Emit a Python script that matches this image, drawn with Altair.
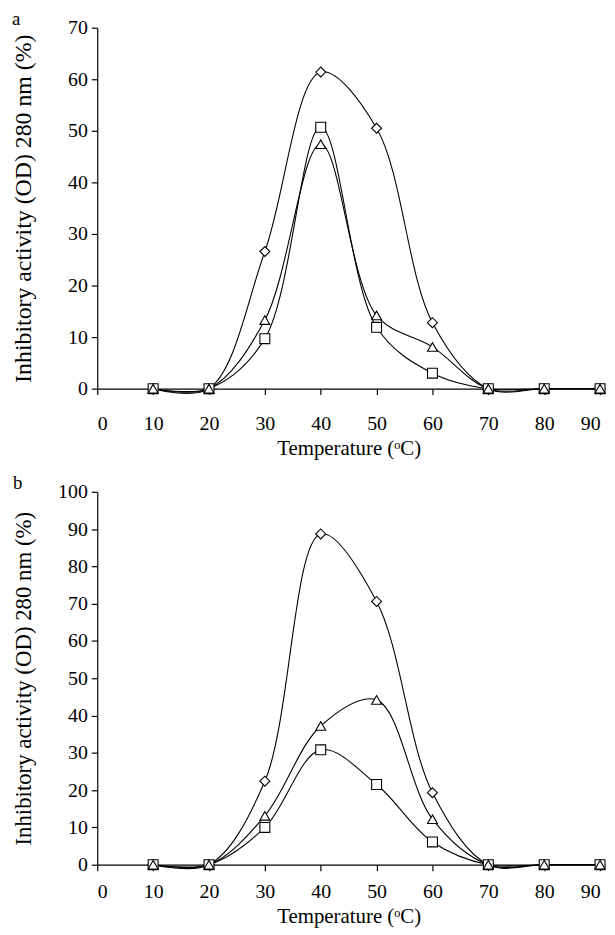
import altair as alt
import pandas as pd

temps = [10, 20, 30, 40, 50, 60, 70, 80, 90]

a_diamond = [0, 0, 26.6, 61.4, 50.5, 12.8, 0, 0, 0]
a_square = [0, 0, 9.7, 50.7, 11.9, 3.0, 0, 0, 0]
a_triangle = [0, 0, 13.3, 47.4, 14.2, 8.1, 0, 0, 0]

b_diamond = [0, 0, 22.4, 88.7, 70.6, 19.3, 0, 0, 0]
b_triangle = [0, 0, 13.1, 37.2, 44.2, 12.2, 0, 0, 0]
b_square = [0, 0, 10.0, 30.8, 21.5, 6.1, 0, 0, 0]

series_names = ["diamond", "square", "triangle"]
shape_range = ["diamond", "square", "triangle-up"]

x_ticks = [0, 10, 20, 30, 40, 50, 60, 70, 80, 90]
a_y_ticks = [0, 10, 20, 30, 40, 50, 60, 70]
b_y_ticks = [0, 10, 20, 30, 40, 50, 60, 70, 80, 90, 100]


def make_df(d, s, t):
    rows = []
    for name, vals in zip(series_names, [d, s, t]):
        for x, v in zip(temps, vals):
            rows.append({"temp": x, "value": v, "series": name})
    return pd.DataFrame(rows)


df_a = make_df(a_diamond, a_square, a_triangle)
df_b = make_df(b_diamond, b_square, b_triangle)

FONT = "Liberation Serif"
YTITLE = "Inhibitory activity (OD) 280 nm (%)"
XTITLE = "Temperature (\u1d52C)"


def panel(df, label, height, ymax, yticks, ytitle_size, label_pad):
    x_enc = alt.X(
        "temp:Q",
        scale=alt.Scale(domain=[0, 90], nice=False, zero=False),
        axis=alt.Axis(
            values=x_ticks, title=XTITLE, grid=False, format="d",
            labelPadding=label_pad, titleFontSize=21, titlePadding=4,
        ),
    )
    y_enc = alt.Y(
        "value:Q",
        scale=alt.Scale(domain=[0, ymax], nice=False),
        axis=alt.Axis(
            values=yticks, title=YTITLE, grid=False, format="d",
            titleFontSize=ytitle_size, titleX=-74,
            titleBaseline="middle",
        ),
    )
    base = alt.Chart(df)
    lines = base.mark_line(
        interpolate="catmull-rom", color="black", strokeWidth=1.1
    ).encode(x=x_enc, y=y_enc, detail="series:N")
    pts = base.mark_point(
        filled=True, fill="white", stroke="black", strokeWidth=1.1,
        size=100, opacity=1,
    ).encode(
        x=x_enc,
        y=y_enc,
        shape=alt.Shape(
            "series:N",
            scale=alt.Scale(domain=series_names, range=shape_range),
            legend=None,
        ),
    )
    return alt.layer(lines, pts).properties(
        width=507,
        height=height,
        title=alt.TitleParams(
            text=label, anchor="start", frame="bounds", font=FONT,
            fontSize=19, fontWeight="normal", color="black", offset=-11,
        ),
    )


top = panel(df_a, "a", 364, 70, a_y_ticks, 24, 19)
bottom = panel(df_b, "b", 376, 100, b_y_ticks, 23, 11)

chart = alt.vconcat(top, bottom, spacing=16).properties(
    padding={"left": 3, "top": -2, "right": -1, "bottom": 0}
).configure_view(stroke=None).configure_axis(
    domainColor="black", tickColor="black", labelColor="black",
    titleColor="black", labelFont=FONT, titleFont=FONT, labelFontSize=20,
    titleFontWeight="normal", tickSize=6, domainWidth=1.2, tickWidth=1.2,
    labelPadding=4,
)

chart.save("out.html", embed_options={"renderer": "svg", "actions": False})
